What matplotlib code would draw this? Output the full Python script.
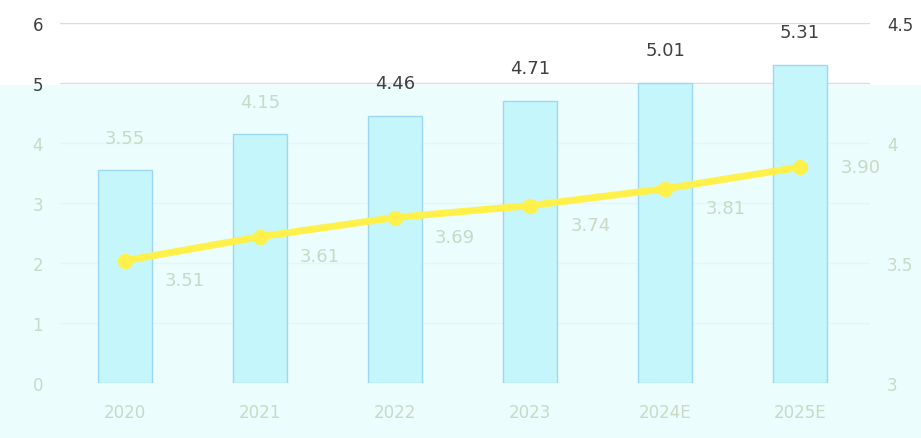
import matplotlib.pyplot as plt
from matplotlib.patches import Rectangle

years = ["2020", "2021", "2022", "2023", "2024E", "2025E"]
bar_values = [3.55, 4.15, 4.46, 4.71, 5.01, 5.31]
line_values = [3.51, 3.61, 3.69, 3.74, 3.81, 3.90]
left_ticks = [0, 1, 2, 3, 4, 5, 6]
right_ticks = [3, 3.5, 4, 4.5]

dark = "#404040"
faint = "#c9d9c4"
band = "#ebfdfd"

fig = plt.figure(figsize=(9.21, 4.39), dpi=100)
fig.patch.set_facecolor("white")
# washed-out cyan band over the lower part of the picture
fig.patches.append(Rectangle((0, 0), 1, (439 - 86) / 439, transform=fig.transFigure,
                             facecolor=band, edgecolor="none", zorder=-1))

ax = fig.add_axes([0.065, 0.125, 0.88, 0.82])
ax.set_facecolor("none")
x = list(range(len(years)))

ax.bar(x, bar_values, width=0.4, color="#c4f6fb", edgecolor="#9cd8f5", linewidth=1, zorder=2)
ax.set_ylim(0, 6)
ax.set_xlim(-0.48, 5.52)
ax.set_yticks(left_ticks)
ax.grid(axis="y", color="#dcdcdc", linewidth=1, zorder=0)
ax.set_axisbelow(True)
# gridlines inside the cyan band are barely visible in the original
for gl, v in zip(ax.get_ygridlines(), left_ticks):
    if v < 5:
        gl.set_color("#e4f7f5")
for s in ax.spines.values():
    s.set_visible(False)
ax.tick_params(length=0, labelsize=12, pad=12)
ax.set_xticks(x)
ax.set_xticklabels(years, color=faint, fontsize=12)
ax.tick_params(axis="x", pad=14)
for lab, v in zip(ax.get_yticklabels(), left_ticks):
    lab.set_color(dark if v >= 5 else faint)

for i, v in enumerate(bar_values):
    col = dark if v > 4.4 else faint
    ax.annotate(f"{v:.2f}", (i, v), xytext=(0, 17), textcoords="offset points",
                ha="center", va="bottom", fontsize=13, color=col)

ax2 = ax.twinx()
ax2.set_ylim(3, 4.5)
ax2.set_yticks(right_ticks)
ax2.set_yticklabels([f"{v:g}" for v in right_ticks])
for s in ax2.spines.values():
    s.set_visible(False)
ax2.tick_params(length=0, labelsize=12, pad=12)
for lab, v in zip(ax2.get_yticklabels(), right_ticks):
    lab.set_color(dark if v >= 4.5 else faint)

ax2.plot(x, line_values, color="#fff04a", linewidth=5, marker="o", markersize=10,
         solid_capstyle="round", zorder=3)
for i, v in enumerate(line_values):
    dy = 0 if i == len(line_values) - 1 else -14
    ax2.annotate(f"{v:.2f}", (i, v), xytext=(29, dy), textcoords="offset points",
                 ha="left", va="center", fontsize=13, color=faint)

fig.savefig("out.png", dpi=100)
